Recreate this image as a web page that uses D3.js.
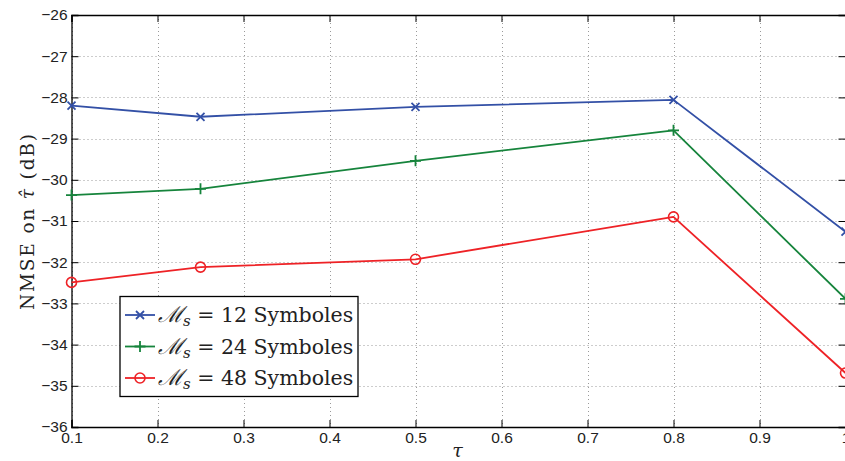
<!DOCTYPE html>
<html>
<head>
<meta charset="utf-8">
<script src="https://cdn.jsdelivr.net/npm/d3@7"></script>
<style>
  html, body { margin: 0; padding: 0; background: #fff; }
  svg { display: block; }
</style>
</head>
<body>
<div id="chart"></div>
<script>
// ---- data ----
const tauValues = [0.1, 0.25, 0.5, 0.8, 1.0];
const series12 = [-28.20, -28.47, -28.23, -28.06, -31.26];
const series24 = [-30.37, -30.22, -29.54, -28.80, -32.89];
const series48 = [-32.49, -32.12, -31.93, -30.90, -34.69];
const seriesLabels = ["12", "24", "48"];
const xTicks = [0.1, 0.2, 0.3, 0.4, 0.5, 0.6, 0.7, 0.8, 0.9, 1];
const yTicks = [-36, -35, -34, -33, -32, -31, -30, -29, -28, -27, -26];

const W = 845, H = 461;
const margin = { left: 71.5, right: -0.5, top: 15, bottom: 34 };
const colors = ["#3350a6", "#16843c", "#ee2226"];
const markers = ["x", "plus", "circle"];
const seriesData = [series12, series24, series48];

const svg = d3.select("#chart").append("svg").attr("width", W).attr("height", H);

const x = d3.scaleLinear().domain([0.1, 1]).range([margin.left, W - margin.right]);
const y = d3.scaleLinear().domain([-36, -26]).range([H - margin.bottom, margin.top]);

const x0 = x.range()[0], x1 = x.range()[1], y0 = y.range()[0], y1 = y.range()[1];

// grid
const grid = svg.append("g").attr("stroke", "#9a9a9a").attr("stroke-width", 1).attr("stroke-dasharray", "1,3");
xTicks.forEach(t => {
  grid.append("line").attr("x1", Math.round(x(t)) + 0.5).attr("x2", Math.round(x(t)) + 0.5).attr("y1", y1).attr("y2", y0);
});
yTicks.forEach(t => {
  grid.append("line").attr("x1", x0).attr("x2", x1).attr("y1", Math.round(y(t)) + 0.5).attr("y2", Math.round(y(t)) + 0.5);
});

// axes (ticks inward)
const tickLen = 7;
const fontTick = "'Liberation Sans', Arial, Helvetica, sans-serif";
const fmtMinus = d => String(d).replace("-", "\u2212");

const axBottom = svg.append("g").attr("transform", `translate(0,${y0})`)
  .call(d3.axisBottom(x).tickValues(xTicks).tickSize(-tickLen).tickPadding(8).tickFormat(d => d3.format("")(d)));
const axTop = svg.append("g").attr("transform", `translate(0,${y1})`)
  .call(d3.axisTop(x).tickValues(xTicks).tickSize(-tickLen).tickFormat(""));
const axLeft = svg.append("g").attr("transform", `translate(${x0},0)`)
  .call(d3.axisLeft(y).tickValues(yTicks).tickSize(-tickLen).tickPadding(4).tickFormat(fmtMinus));
const axRight = svg.append("g").attr("transform", `translate(${x1},0)`)
  .call(d3.axisRight(y).tickValues(yTicks).tickSize(-tickLen).tickFormat(""));

[axBottom, axTop, axLeft, axRight].forEach(g => {
  g.select(".domain").attr("stroke", "#000").attr("stroke-width", 1.3);
  g.selectAll(".tick line").attr("stroke", "#000").attr("stroke-width", 1);
  g.selectAll("text").attr("font-family", fontTick).attr("font-size", 15.5).attr("fill", "#222");
});
axBottom.selectAll("text").attr("dy", "0.5em");

// lines
const line = d3.line().x((d, i) => x(tauValues[i])).y(d => y(d));
seriesData.forEach((s, k) => {
  svg.append("path").datum(s).attr("d", line).attr("fill", "none")
    .attr("stroke", colors[k]).attr("stroke-width", 1.8).attr("stroke-linejoin", "round");
});

function drawMarker(g, type, cx, cy, color) {
  if (type === "x") {
    const r = 4;
    g.append("path").attr("d", `M${cx - r},${cy - r}L${cx + r},${cy + r}M${cx - r},${cy + r}L${cx + r},${cy - r}`)
      .attr("stroke", color).attr("stroke-width", 1.8).attr("fill", "none");
  } else if (type === "plus") {
    const r = 5.5;
    g.append("path").attr("d", `M${cx - r},${cy}L${cx + r},${cy}M${cx},${cy - r}L${cx},${cy + r}`)
      .attr("stroke", color).attr("stroke-width", 1.8).attr("fill", "none");
  } else {
    g.append("circle").attr("cx", cx).attr("cy", cy).attr("r", 5)
      .attr("stroke", color).attr("stroke-width", 1.6).attr("fill", "none");
  }
}

seriesData.forEach((s, k) => {
  const g = svg.append("g");
  s.forEach((v, i) => drawMarker(g, markers[k], x(tauValues[i]), y(v), colors[k]));
});

// y label
const serif = "'DejaVu Serif', 'Liberation Serif', serif";
const ylab = svg.append("text")
  .attr("transform", `translate(34,${(y0 + y1) / 2 + 1}) rotate(-90)`)
  .attr("text-anchor", "middle").attr("font-family", serif).attr("font-size", 18.5).attr("fill", "#222")
  .attr("textLength", 176).attr("lengthAdjust", "spacing");
ylab.append("tspan").text("NMSE on ");
ylab.append("tspan").attr("font-style", "italic").text("\u03C4\u0302");
ylab.append("tspan").text(" (dB)");

// x label
svg.append("text").attr("x", (x0 + x1) / 2 - 1).attr("y", 457)
  .attr("text-anchor", "middle").attr("font-family", serif)
  .attr("font-style", "italic").attr("font-size", 19).attr("fill", "#222").text("\u03C4");

// legend
const lg = svg.append("g");
const lx = 120, ly = 296.5, lw = 238, lh = 100;
lg.append("rect").attr("x", lx).attr("y", ly).attr("width", lw).attr("height", lh)
  .attr("fill", "#fff").attr("stroke", "#000").attr("stroke-width", 1.3);
const rowY = [315, 346.5, 378];
seriesLabels.forEach((lab, k) => {
  const cy = rowY[k];
  lg.append("line").attr("x1", 125).attr("x2", 155).attr("y1", cy).attr("y2", cy)
    .attr("stroke", colors[k]).attr("stroke-width", 1.8);
  drawMarker(lg, markers[k], 140, cy, colors[k]);
  const t = lg.append("text").attr("x", 158).attr("y", cy + 7)
    .attr("font-family", serif).attr("font-size", 20.5).attr("fill", "#222");
  t.append("tspan").attr("font-style", "italic").attr("font-size", 22).text("\u2133");
  t.append("tspan").attr("font-style", "italic").attr("font-size", 15).attr("dy", 4).text("s");
  t.append("tspan").attr("dy", -4).text(" = " + lab + " Symboles");
});
</script>
</body>
</html>
